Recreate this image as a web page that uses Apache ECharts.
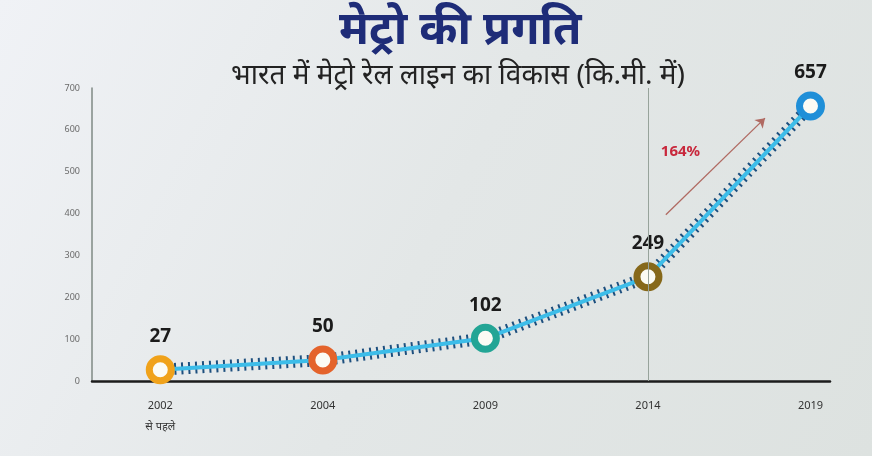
<!DOCTYPE html>
<html>
<head>
<meta charset="utf-8">
<script src="https://cdn.jsdelivr.net/npm/echarts@6/dist/echarts.min.js"></script>
<style>
html,body{margin:0;padding:0;}
#c{width:872px;height:456px;}
</style>
</head>
<body>
<div id="c"></div>
<script>
// ---- data ----
const categories = ['2002\nसे पहले', '2004', '2009', '2014', '2019'];
const values = [27, 50, 102, 249, 657];
const yTicks = [0, 100, 200, 300, 400, 500, 600, 700];
const growthLabel = '164%';
const titleText = 'मेट्रो की प्रगति';
const subtitleText = 'भारत में मेट्रो रेल लाइन का विकास (कि.मी. में)';
// ---- styles ----
const ringColors = ['#f0a21a', '#e4632b', '#23a595', '#86681a', '#1f8fd8'];

const chart = echarts.init(document.getElementById('c'));
const idx = categories.map((c, i) => i);
const pts = values.map((v, i) => [i, v]);
const ringPts = values.map((v, i) => ({
  value: [i, v],
  itemStyle: { color: '#fbfbf4', borderColor: ringColors[i], borderWidth: 7 }
}));
const font = '"Noto Sans", "Open Sans", sans-serif';

chart.setOption({
  backgroundColor: {
    type: 'linear', x: 0, y: 0, x2: 1, y2: 1,
    colorStops: [
      { offset: 0, color: '#f0f2f6' },
      { offset: 0.5, color: '#e3e7e7' },
      { offset: 1, color: '#dde2e0' }
    ]
  },
  title: [
    { text: titleText, left: 334, top: 3,
      textStyle: { fontFamily: font, fontSize: 46, fontWeight: 'bold', color: '#1e2c78' } },
    { text: subtitleText, left: 226, top: 57,
      textStyle: { fontFamily: font, fontSize: 28, fontWeight: 'normal', color: '#222' } }
  ],
  grid: { left: 92, right: 42, top: 88, bottom: 75 },
  xAxis: {
    type: 'value', min: -0.42, max: 4.12,
    splitLine: { show: false },
    axisLine: { show: true, onZero: false, lineStyle: { color: '#1c1c1c', width: 2.5 } },
    axisTick: { show: false },
    axisLabel: {
      customValues: idx,
      formatter: v => categories[Math.round(v)] || '',
      margin: 14, fontFamily: font, fontSize: 11, color: '#333', lineHeight: 21
    }
  },
  yAxis: {
    type: 'value', min: 0, max: 700, interval: 100,
    splitLine: { show: false },
    axisLine: { show: true, onZero: false, lineStyle: { color: '#7f8a84', width: 1.5 } },
    axisTick: { show: false },
    axisLabel: {
      customValues: yTicks,
      margin: 12, fontFamily: font, fontSize: 9, color: '#6a6a6a'
    }
  },
  series: [
    {
      name: 'ties', type: 'line', data: pts, symbol: 'none', z: 2, silent: true,
      lineStyle: { width: 12, color: '#1d4f7e', type: [2, 5] },
      markLine: {
        silent: true, symbol: 'none', label: { show: false },
        lineStyle: { color: '#97a39b', width: 1, type: 'solid' },
        data: [{ xAxis: 3 }]
      }
    },
    {
      name: 'rail', type: 'line', data: ringPts, z: 3,
      lineStyle: { width: 4, color: '#3dbde9' },
      symbol: 'circle', symbolSize: 22,
      label: {
        show: true, position: 'top', distance: 9,
        formatter: p => String(values[p.dataIndex]),
        fontFamily: font, fontSize: 19, fontWeight: 'bold', color: '#1b1b1b'
      },
      markLine: {
        silent: true, symbol: ['none', 'arrow'], symbolSize: 9,
        label: { show: false },
        lineStyle: { color: '#b06a62', width: 1.3, type: 'solid' },
        data: [[{ coord: [3.11, 397] }, { coord: [3.72, 628] }]]
      },
      markPoint: {
        silent: true, symbol: 'circle', symbolSize: 0,
        label: {
          show: true, formatter: growthLabel, position: 'inside',
          fontFamily: font, fontSize: 15, fontWeight: 'bold', color: '#c8283c'
        },
        data: [{ coord: [3.2, 547] }]
      }
    }
  ]
});
</script>
</body>
</html>
